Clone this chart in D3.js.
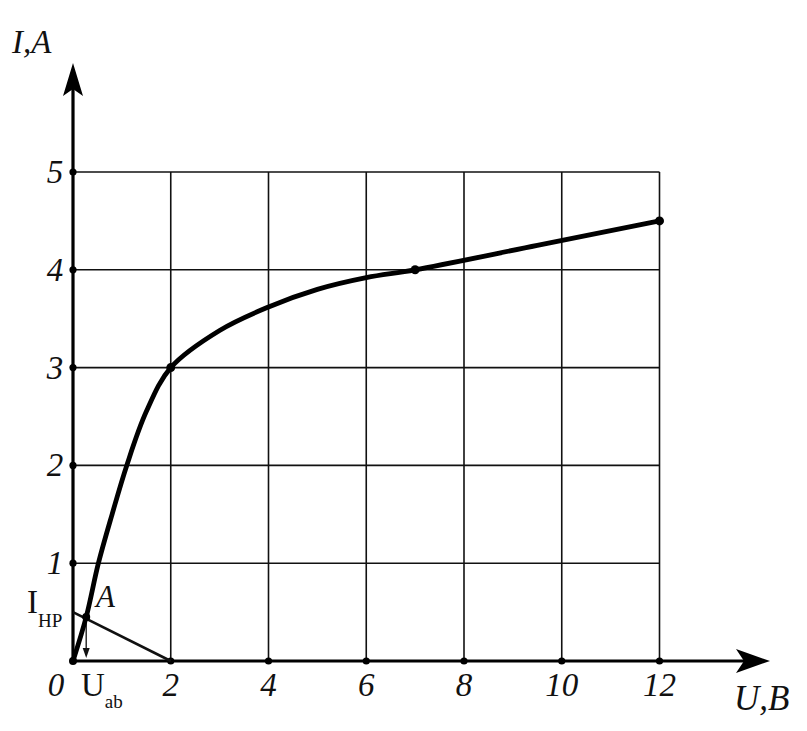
<!DOCTYPE html>
<html><head><meta charset="utf-8">
<script src="https://cdn.jsdelivr.net/npm/d3@7"></script>
<style>body{margin:0;background:#fff}svg{display:block}</style>
</head><body>
<script>
const xTicks = [2, 4, 6, 8, 10, 12];
const yTicks = [1, 2, 3, 4, 5];
const curveU = [0, 0.27, 0.52, 0.8, 1.1, 1.5, 2, 3, 4, 5, 6, 7, 9.5, 12];
const curveI = [0, 0.45, 1, 1.5, 2, 2.55, 3, 3.38, 3.62, 3.8, 3.92, 4, 4.25, 4.5];
const markedU = [2, 7, 12];
const markedI = [3, 4, 4.5];
const loadU = [0, 2];
const loadI = [0.5, 0];
const pointA = [0.27, 0.45];

const W = 807, H = 731;
const svg = d3.select("body").append("svg").attr("width", W).attr("height", H);
const x = d3.scaleLinear().domain([0, 12]).range([73, 659.5]);
const y = d3.scaleLinear().domain([0, 5]).range([661, 172]);
const serif = "'Liberation Serif','DejaVu Serif',serif";

// grid
const g = svg.append("g").attr("stroke", "#111").attr("stroke-width", 1.6);
xTicks.forEach(t => g.append("line").attr("x1", x(t)).attr("x2", x(t)).attr("y1", y(0)).attr("y2", y(5)));
yTicks.forEach(t => g.append("line").attr("x1", x(0)).attr("x2", x(12)).attr("y1", y(t)).attr("y2", y(t)));

// axes
svg.append("line").attr("x1", x(0)).attr("x2", 750).attr("y1", y(0)).attr("y2", y(0)).attr("stroke", "#000").attr("stroke-width", 3.2);
svg.append("line").attr("x1", x(0)).attr("x2", x(0)).attr("y1", y(0)).attr("y2", 85).attr("stroke", "#000").attr("stroke-width", 3.2);
svg.append("path").attr("d", `M770,${y(0)} L736,${y(0)-12} L744,${y(0)} L736,${y(0)+12} Z`).attr("fill", "#000");
svg.append("path").attr("d", `M${x(0)},63 L${x(0)-10},96 L${x(0)},89 L${x(0)+10},96 Z`).attr("fill", "#000");

// tick dots
xTicks.forEach(t => svg.append("circle").attr("cx", x(t)).attr("cy", y(0)).attr("r", 3.6).attr("fill", "#000"));
yTicks.forEach(t => svg.append("circle").attr("cx", x(0)).attr("cy", y(t)).attr("r", 3.6).attr("fill", "#000"));
svg.append("circle").attr("cx", x(0)).attr("cy", y(0)).attr("r", 4).attr("fill", "#000");

// tick labels
const lab = svg.append("g").attr("font-family", serif).attr("font-style", "italic").attr("font-size", 33).attr("fill", "#111");
xTicks.forEach(t => lab.append("text").attr("x", x(t)).attr("y", 696).attr("text-anchor", "middle").text(t));
lab.append("text").attr("x", 56).attr("y", 696).attr("text-anchor", "middle").text("0");
yTicks.forEach(t => lab.append("text").attr("x", 55).attr("y", y(t) + 11).attr("text-anchor", "middle").text(t));
lab.append("text").attr("x", 12).attr("y", 53).attr("font-size", 33).text("I,A");
lab.append("text").attr("x", 734).attr("y", 710).attr("font-size", 35).text("U,B");
lab.append("text").attr("x", 96).attr("y", 607).attr("font-size", 31).text("A");

// load line
svg.append("line").attr("x1", x(loadU[0])).attr("y1", y(loadI[0])).attr("x2", x(loadU[1])).attr("y2", y(loadI[1]))
  .attr("stroke", "#111").attr("stroke-width", 2.6);

// drop arrow from A
const ax = x(pointA[0]);
svg.append("line").attr("x1", ax).attr("x2", ax).attr("y1", y(pointA[1])).attr("y2", y(0) - 6).attr("stroke", "#111").attr("stroke-width", 1.3);
svg.append("path").attr("d", `M${ax},${y(0)-3} L${ax-3.5},${y(0)-13} L${ax+3.5},${y(0)-13} Z`).attr("fill", "#111");

// curve
const pts = curveU.map((u, i) => [u, curveI[i]]);
svg.append("path").datum(pts)
  .attr("d", d3.line().x(d => x(d[0])).y(d => y(d[1])).curve(d3.curveCatmullRom.alpha(0.5)))
  .attr("fill", "none").attr("stroke", "#000").attr("stroke-width", 4.8).attr("stroke-linecap", "round");
markedU.forEach((u, i) => svg.append("circle").attr("cx", x(u)).attr("cy", y(markedI[i])).attr("r", 4.5).attr("fill", "#000"));
svg.append("circle").attr("cx", x(pointA[0])).attr("cy", y(pointA[1])).attr("r", 4).attr("fill", "#000");

// I_HP and U_ab
const t1 = svg.append("text").attr("x", 27).attr("y", 613).attr("font-family", serif).attr("font-size", 33).attr("fill", "#111");
t1.append("tspan").text("I");
t1.append("tspan").attr("font-size", 19).attr("dy", 14).text("HP");
const t2 = svg.append("text").attr("x", 81).attr("y", 696).attr("font-family", serif).attr("font-size", 33).attr("fill", "#111");
t2.append("tspan").text("U");
t2.append("tspan").attr("font-size", 19).attr("dy", 12).text("ab");
</script>
</body></html>
